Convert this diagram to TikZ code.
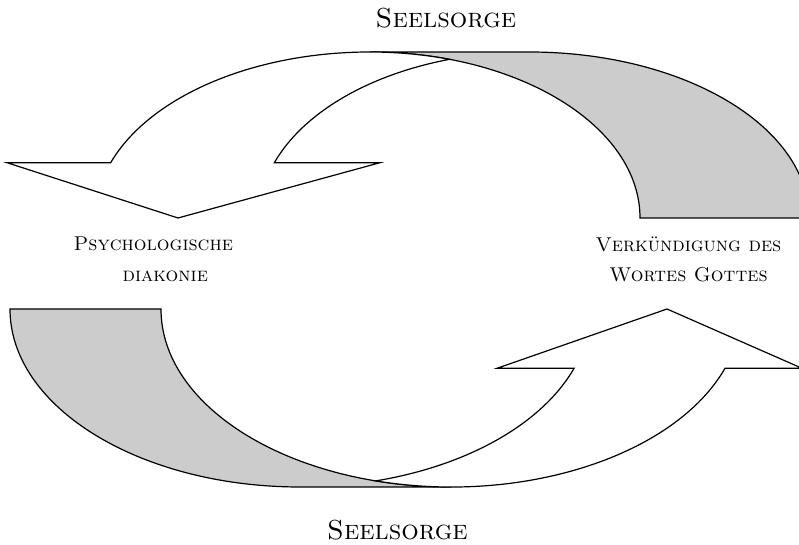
\documentclass[tikz,border=0pt]{standalone}
\usetikzlibrary{positioning}
\tikzset{
  band/.style={draw=black, line width=1.2pt},
  backband/.style={band, fill=black!20},
  frontband/.style={band, fill=white},
  lbl/.style={inner sep=0pt, align=center, font=\fontsize{20}{30.3}\selectfont\scshape},
  seel/.style={inner sep=0pt, anchor=base, font=\fontsize{27.5}{34}\selectfont\scshape}
}
\begin{document}
\begin{tikzpicture}[x=1pt,y=1pt]
    \useasboundingbox (0,0) rectangle (799,545);
    \clip (0,0) rectangle (799,545);

    % upper arrow
    \draw[backband] (640,327) arc[start angle=0, end angle=90, x radius=270, y radius=166]
        -- (529,493) arc[start angle=90, end angle=0, x radius=280, y radius=166] -- cycle;
    \draw[frontband] (178,327) -- (7,382.3) -- (110.7,382.3)
        arc[start angle=160.54, end angle=90, x radius=275, y radius=166]
        arc[start angle=90, end angle=72.88, x radius=270, y radius=166]
        arc[start angle=107.12, end angle=160.54, x radius=270, y radius=166]
        -- (380,382.3) -- cycle;

    % lower arrow
    \draw[backband] (10,236) arc[start angle=180, end angle=270, x radius=290.3, y radius=178]
        -- (451.3,58) arc[start angle=270, end angle=180, x radius=290.3, y radius=178] -- cycle;
    \draw[frontband] (667,236) -- (802,176.7) -- (725,176.7)
        arc[start angle=-19.46, end angle=-105.07, x radius=290.3, y radius=178]
        arc[start angle=-74.93, end angle=-19.46, x radius=290.3, y radius=178]
        -- (497,176.7) -- cycle;

    % labels
    \node[seel] (seeltop) at (446,517.5) {Seelsorge};
    \node[seel] (seelbot) at (397.5,5.5) {Seelsorge};
    \node[lbl] (psy) at (153.3,285.7) {Psychologische\\\hspace*{24pt}diakonie};
    \node[lbl] (verk) at (688.5,285.5) {Verkündigung des\\Wortes Gottes};
\end{tikzpicture}
\end{document}
